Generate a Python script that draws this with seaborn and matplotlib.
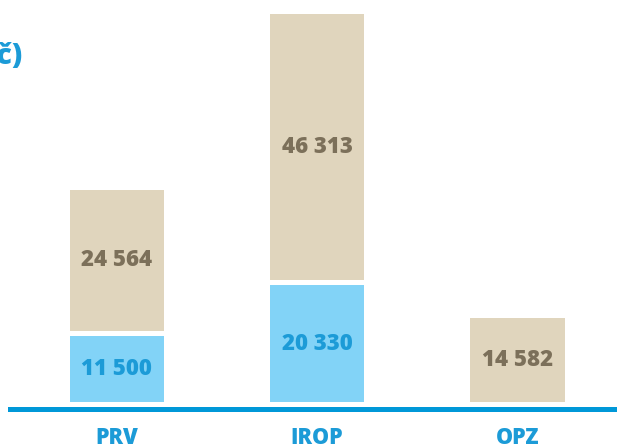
import matplotlib
matplotlib.use("Agg")
import matplotlib.pyplot as plt
import seaborn as sns
import pandas as pd
import numpy as np

categories = ["PRV", "IROP", "OPZ"]
blue_values = [11500, 20330, 0]
beige_values = [24564, 46313, 14582]
title_text = "(mil. Kč)"

BLUE_BAR = "#82D3F7"
BLUE_TXT = "#1C9BD7"
BEIGE_BAR = "#E0D5BD"
BEIGE_TXT = "#7C705A"
LINE = "#0098D8"

sns.set_theme(style="white")
plt.rcParams["font.family"] = ["Open Sans", "DejaVu Sans"]

W, H = 617, 445
fig = plt.figure(figsize=(W / 100, H / 100), dpi=100)
ax = fig.add_axes([10 / W, (H - 402) / H, 607 / W, 402 / H])

df = pd.DataFrame({"cat": categories, "blue": blue_values, "beige": beige_values})

units_per_px = 174.0
gap = 5 * units_per_px
WEIGHT = 800

sns.barplot(data=df, x="cat", y="beige", color=BEIGE_BAR, saturation=1,
            width=0.47, ax=ax, linewidth=0)
beige_patches = list(ax.patches)
sns.barplot(data=df, x="cat", y="blue", color=BLUE_BAR, saturation=1,
            width=0.47, ax=ax, linewidth=0)
blue_patches = ax.patches[len(beige_patches):]

for i, p in enumerate(beige_patches):
    b = blue_values[i]
    bottom = b + gap if b > 0 else 0
    p.set_y(bottom)
    p.set_height(beige_values[i])
    cx = p.get_x() + p.get_width() / 2
    ax.text(cx, bottom + beige_values[i] / 2, f"{beige_values[i]:,}".replace(",", " "),
            ha="center", va="center", fontsize=16, fontweight=WEIGHT, color=BEIGE_TXT)

for i, p in enumerate(blue_patches):
    b = blue_values[i]
    if b > 0:
        cx = p.get_x() + p.get_width() / 2
        ax.text(cx, b / 2, f"{b:,}".replace(",", " "),
                ha="center", va="center", fontsize=16, fontweight=WEIGHT, color=BLUE_TXT)

ax.set_xlim(-0.532, 2.496)
ax.set_ylim(0, 402 * units_per_px)
ax.set_xlabel("")
ax.set_ylabel("")
ax.set_yticks([])
for s in ["top", "right", "left"]:
    ax.spines[s].set_visible(False)
ax.spines["bottom"].set_color(LINE)
ax.spines["bottom"].set_linewidth(3.6)
ax.spines["bottom"].set_position(("outward", 5))
ax.tick_params(axis="x", length=0, pad=12, labelsize=15.5, labelcolor=BLUE_TXT)
for lab in ax.get_xticklabels():
    lab.set_fontweight(WEIGHT)

fig.text(22 / W, 1 - 56 / H, title_text, ha="right", va="center",
         fontsize=21, fontweight=WEIGHT, color=BLUE_TXT)

fig.savefig("out.png", dpi=100)
